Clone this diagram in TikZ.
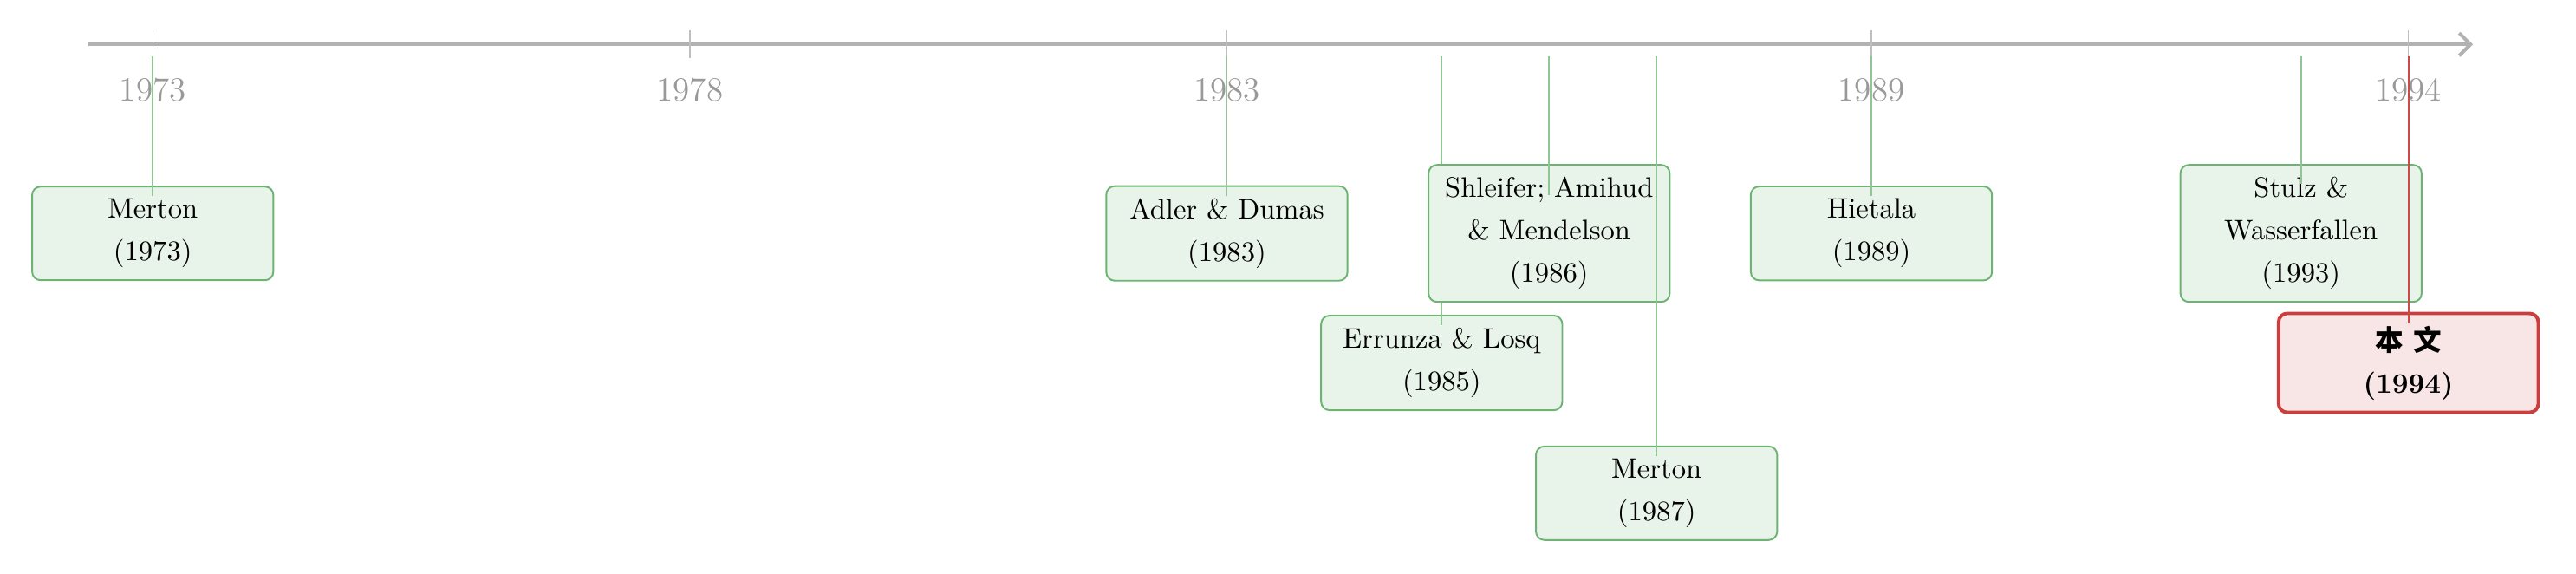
\documentclass[tikz,border=0pt]{standalone}
\usepackage{fontspec}
\usepackage{xcolor}
\usepackage{tikz}
\usetikzlibrary{calc,arrows.meta}
\newfontfamily\cjk{Noto Sans CJK SC}
\definecolor{evgreen}{RGB}{30,140,40}
\definecolor{evred}{RGB}{198,40,40}
\newcommand{\evbox}[5][evbox]{\node[#1] (#2) at (#3,#4) {#5};}
\newcommand{\evlink}[3][evline]{\coordinate (#2t) at (#2.north |- ax);
  \draw[#1] (#2t) -- ($(#2.north)+(0,-#3)$);}

\begin{document}
\begin{tikzpicture}[x=1.336cm,line width=0.4pt,
  evbox/.style={draw=evgreen!65,fill=evgreen!10,rounded corners=3pt,line width=0.6pt,
    text width=2.62cm,align=center,inner xsep=0.19cm,inner ysep=4.4pt,
    font=\fontsize{10}{15}\selectfont},
  mybox/.style={evbox,draw=evred!90,fill=evred!12,line width=1.2pt,text width=2.85cm,
    font=\fontsize{10}{15}\selectfont\bfseries},
  evline/.style={evgreen!50,line width=0.55pt},
  myline/.style={evred!85,line width=0.55pt}]
\useasboundingbox (-1.422,0.552) rectangle (22.56,-6.574);
\coordinate (axs) at (-0.6,0);
\coordinate (axe) at (21.6,0);
\coordinate (ax) at (0,-0.15);
\draw[gray!60,line width=1.2pt,-{Straight Barb[length=4pt,width=8pt]}] (axs) -- (axe);
\foreach \dx/\yr in {0/1973,5/1978,10/1983,16/1989,21/1994}
  { \draw[gray!50] (\dx,0.17) -- (\dx,-0.17);
    \node[text=gray!80,font=\large] (y\yr) at (\dx,-0.57) {\yr}; }

\evbox{m73}{0}{-2.35}{Merton\\(1973)}
\evlink{m73}{0.13}
\evbox{ad83}{10}{-2.35}{Adler \& Dumas\\(1983)}
\evlink{ad83}{0.13}
\evbox{el85}{12}{-3.96}{Errunza \& Losq\\(1985)}
\evlink{el85}{0.13}
\evbox{sam86}{13}{-2.35}{Shleifer; Amihud\\\& Mendelson\\(1986)}
\evlink{sam86}{0.39}
\evbox{m87}{14}{-5.58}{Merton\\(1987)}
\evlink{m87}{0.13}
\evbox{h89}{16}{-2.35}{Hietala\\(1989)}
\evlink{h89}{0.13}
\evbox{sw93}{20}{-2.35}{Stulz \&\\Wasserfallen\\(1993)}
\evlink{sw93}{0.25}
\evbox[mybox]{bw94}{21}{-3.96}{{\cjk 本 文}\\(1994)}
\evlink[myline]{bw94}{0.14}
\end{tikzpicture}
\end{document}
